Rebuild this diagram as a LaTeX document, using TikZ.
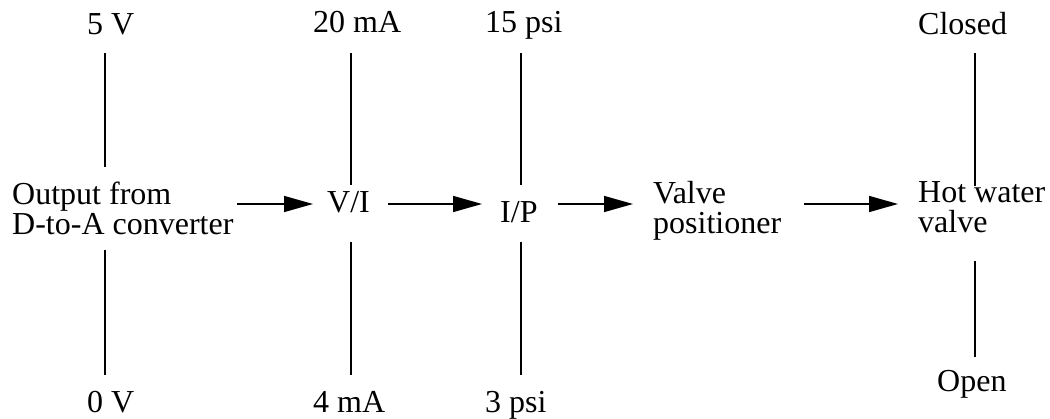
\documentclass[tikz,border=0pt]{standalone}
\usepackage{fontspec}
\setmainfont{Liberation Serif}
\usetikzlibrary{arrows.meta}
\begin{document}
\begin{tikzpicture}[x=1pt,y=-1pt,
  lbl/.style={anchor=base west,inner sep=0pt,font=\fontsize{32}{30}\selectfont,align=left},
  tick/.style={line width=1.6pt},
  arr/.style={line width=1.6pt,-{Triangle[length=29pt,width=16pt]}}]
\useasboundingbox (0,0) rectangle (1050,419);
% main nodes (base = baseline of last line)
\node[lbl] (out) at (12,235) {Output from\\D-to-A converter};
\node[lbl] (vi) at (327,213) {V/I};
\node[lbl] (ip) at (500,223) {I/P};
\node[lbl] (vp) at (653,234) {Valve\\positioner};
\node[lbl] (hw) at (918,233) {Hot water\\valve};
% range labels
\node[lbl] (v5) at (87,35) {5 V};
\node[lbl] (v0) at (87,413) {0 V};
\node[lbl] (ma20) at (313,33) {20 mA};
\node[lbl] (ma4) at (313,413) {4 mA};
\node[lbl] (p15) at (485,33) {15 psi};
\node[lbl] (p3) at (485,413) {3 psi};
\node[lbl] (cl) at (918,35) {Closed};
\node[lbl] (op) at (937,392) {Open};
% line ends
\coordinate (a1) at (105,53);  \coordinate (a2) at (105,167);
\coordinate (a3) at (105,250); \coordinate (a4) at (105,375);
\coordinate (b1) at (351,53);  \coordinate (b2) at (351,185);
\coordinate (b3) at (351,242); \coordinate (b4) at (351,375);
\coordinate (c1) at (521,53);  \coordinate (c2) at (521,185);
\coordinate (c3) at (521,242); \coordinate (c4) at (521,375);
\coordinate (d1) at (975,53);  \coordinate (d2) at (975,186);
\coordinate (d3) at (975,261); \coordinate (d4) at (975,357);
\draw[tick] (a1) -- (a2); \draw[tick] (a3) -- (a4);
\draw[tick] (b1) -- (b2); \draw[tick] (b3) -- (b4);
\draw[tick] (c1) -- (c2); \draw[tick] (c3) -- (c4);
\draw[tick] (d1) -- (d2); \draw[tick] (d3) -- (d4);
% arrows
\coordinate (s1) at (237,204); \coordinate (e1) at (313,204);
\coordinate (s2) at (388,204); \coordinate (e2) at (482,204);
\coordinate (s3) at (558,204); \coordinate (e3) at (633,204);
\coordinate (s4) at (804,204); \coordinate (e4) at (898,204);
\draw[arr] (s1) -- (e1);
\draw[arr] (s2) -- (e2);
\draw[arr] (s3) -- (e3);
\draw[arr] (s4) -- (e4);
\end{tikzpicture}
\end{document}
